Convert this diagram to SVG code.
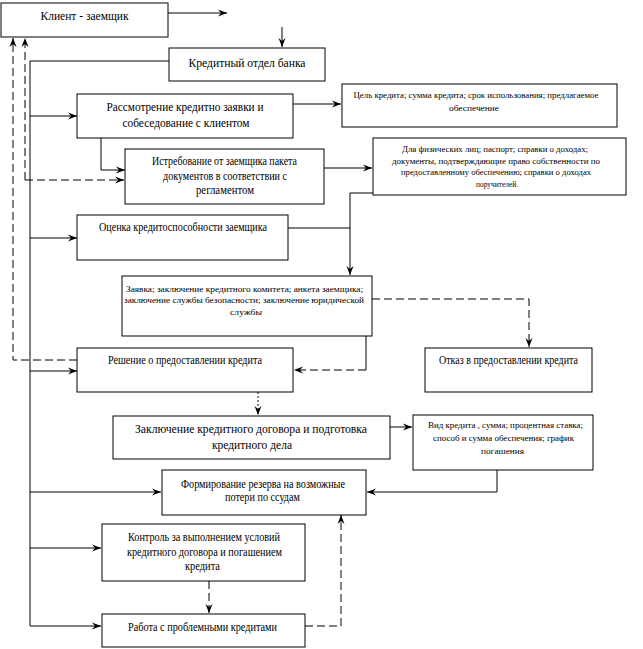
<svg xmlns="http://www.w3.org/2000/svg" width="643" height="649" viewBox="0 0 643 649">
<style>
.box{fill:#fff;stroke:#000;stroke-width:1}
.t{font-family:"Liberation Serif","DejaVu Serif","Times New Roman",serif;font-size:12px;fill:#000;text-anchor:middle}
.s{font-family:"Liberation Serif","DejaVu Serif","Times New Roman",serif;font-size:9px;fill:#000;text-anchor:middle}
.c{fill:none;stroke:#000;stroke-width:1}
.d{stroke-dasharray:8 4}
.o{stroke-dasharray:2 2}
</style>
<defs>
<marker id="ah" markerUnits="userSpaceOnUse" markerWidth="10" markerHeight="8" refX="9" refY="4" orient="auto">
<path d="M0,0.5 L9,4 L0,7.5 L3,4 Z" fill="#000"/>
</marker>
</defs>
<rect width="643" height="649" fill="#fff"/>
<g id="connectors">
<path class="c" d="M168,13 H227" marker-end="url(#ah)"/>
<path class="c" d="M282,27 V47" marker-end="url(#ah)"/>
<path class="c" d="M169,61 H30 V626"/>
<path class="c" d="M30,116 H77" marker-end="url(#ah)"/>
<path class="c" d="M293,104 H341" marker-end="url(#ah)"/>
<path class="c" d="M101,138 V170 H125" marker-end="url(#ah)"/>
<path class="c" d="M324,168 H372" marker-end="url(#ah)"/>
<path class="c" d="M373,193 H350 V275" marker-end="url(#ah)"/>
<path class="c" d="M288,228 H350"/>
<path class="c" d="M30,238 H77" marker-end="url(#ah)"/>
<path class="c" d="M30,371 H77" marker-end="url(#ah)"/>
<path class="c" d="M366,336 V370"/>
<path class="c d" d="M366,370 H294" marker-end="url(#ah)"/>
<path class="c o" d="M258,392 V415" marker-end="url(#ah)"/>
<path class="c" d="M390,427 H412" marker-end="url(#ah)"/>
<path class="c" d="M497,470 V492 H367" marker-end="url(#ah)"/>
<path class="c" d="M30,492 H161" marker-end="url(#ah)"/>
<path class="c" d="M30,548 H101" marker-end="url(#ah)"/>
<path class="c" d="M30,626 H101" marker-end="url(#ah)"/>
<path class="c d" d="M77,360 H13 V38" marker-end="url(#ah)"/>
<path class="c d" d="M25,180 V38" marker-end="url(#ah)"/>
<path class="c d" d="M25,180 H124" marker-end="url(#ah)"/>
<path class="c d" d="M372,299 H529 V347" marker-end="url(#ah)"/>
<path class="c d" d="M209,581 V613" marker-end="url(#ah)"/>
<path class="c d" d="M305,626 H341 V515" marker-end="url(#ah)"/>
</g>
<g id="client">
<rect class="box" x="1" y="3" width="167" height="34"/>
<text class="t" x="84.5" y="20" textLength="88" lengthAdjust="spacingAndGlyphs">Клиент - заемщик</text>
</g>
<g id="credit-dept">
<rect class="box" x="169" y="48" width="156" height="33"/>
<text class="t" x="247" y="67" textLength="117" lengthAdjust="spacingAndGlyphs">Кредитный отдел банка</text>
</g>
<g id="review">
<rect class="box" x="77" y="94" width="216" height="44"/>
<text class="t" x="185" y="111" textLength="157" lengthAdjust="spacingAndGlyphs">Рассмотрение кредитно заявки и</text>
<text class="t" x="186" y="127" textLength="127" lengthAdjust="spacingAndGlyphs">собеседование с клиентом</text>
</g>
<g id="goal">
<rect class="box" x="342" y="84" width="275" height="43"/>
<text class="s" x="476" y="98" textLength="245" lengthAdjust="spacingAndGlyphs">Цель кредита; сумма кредита; срок использования; предлагаемое</text>
<text class="s" x="474" y="111" textLength="50" lengthAdjust="spacingAndGlyphs">обеспечение</text>
</g>
<g id="request-docs">
<rect class="box" x="125" y="149" width="199" height="55"/>
<text class="t" x="224.5" y="165" textLength="145" lengthAdjust="spacingAndGlyphs">Истребование от заемщика пакета</text>
<text class="t" x="225" y="180" textLength="124" lengthAdjust="spacingAndGlyphs">документов в соответствии с</text>
<text class="t" x="225" y="194" textLength="58" lengthAdjust="spacingAndGlyphs">регламентом</text>
</g>
<g id="docs-list">
<rect class="box" x="373" y="138" width="253" height="57"/>
<text class="s" x="495" y="152" textLength="186" lengthAdjust="spacingAndGlyphs">Для физических лиц; паспорт; справки о доходах;</text>
<text class="s" x="496" y="163.5" textLength="208" lengthAdjust="spacingAndGlyphs">документы, подтверждающие право собственности по</text>
<text class="s" x="496" y="175" textLength="190" lengthAdjust="spacingAndGlyphs">предоставленному обеспечению; справки о доходах</text>
<text class="s" x="497" y="186.5" textLength="42" lengthAdjust="spacingAndGlyphs">поручителей.</text>
</g>
<g id="assessment">
<rect class="box" x="77" y="215" width="211" height="45"/>
<text class="t" x="183" y="231" textLength="168" lengthAdjust="spacingAndGlyphs">Оценка кредитоспособности заемщика</text>
</g>
<g id="application">
<rect class="box" x="122" y="276" width="250" height="60"/>
<text class="s" x="244.5" y="292" textLength="237" lengthAdjust="spacingAndGlyphs">Заявка; заключение кредитного комитета; анкета заемщика;</text>
<text class="s" x="244" y="303" textLength="240" lengthAdjust="spacingAndGlyphs">заключение службы безопасности; заключение юридической</text>
<text class="s" x="246" y="315" textLength="32" lengthAdjust="spacingAndGlyphs">службы</text>
</g>
<g id="decision">
<rect class="box" x="77" y="348" width="216" height="44"/>
<text class="t" x="185" y="364" textLength="154" lengthAdjust="spacingAndGlyphs">Решение о предоставлении кредита</text>
</g>
<g id="refusal">
<rect class="box" x="425" y="348" width="167" height="44"/>
<text class="t" x="508.5" y="364" textLength="139" lengthAdjust="spacingAndGlyphs">Отказ в предоставлении кредита</text>
</g>
<g id="contract">
<rect class="box" x="113" y="416" width="277" height="43"/>
<text class="t" x="251" y="433" textLength="232" lengthAdjust="spacingAndGlyphs">Заключение кредитного договора и подготовка</text>
<text class="t" x="252" y="449" textLength="80" lengthAdjust="spacingAndGlyphs">кредитного дела</text>
</g>
<g id="terms">
<rect class="box" x="413" y="415" width="180" height="55"/>
<text class="s" x="505.5" y="428" textLength="155" lengthAdjust="spacingAndGlyphs">Вид кредита , сумма; процентная ставка;</text>
<text class="s" x="503.5" y="441" textLength="141" lengthAdjust="spacingAndGlyphs">способ и сумма обеспечения; график</text>
<text class="s" x="502.5" y="454" textLength="43" lengthAdjust="spacingAndGlyphs">погашения</text>
</g>
<g id="reserve">
<rect class="box" x="162" y="470" width="204" height="45"/>
<text class="t" x="263" y="488" textLength="164" lengthAdjust="spacingAndGlyphs">Формирование резерва на возможные</text>
<text class="t" x="262.5" y="501" textLength="75" lengthAdjust="spacingAndGlyphs">потери по ссудам</text>
</g>
<g id="control">
<rect class="box" x="102" y="524" width="203" height="57"/>
<text class="t" x="204" y="541" textLength="152" lengthAdjust="spacingAndGlyphs">Контроль за выполнением условий</text>
<text class="t" x="204.5" y="556" textLength="155" lengthAdjust="spacingAndGlyphs">кредитного договора и погашением</text>
<text class="t" x="202.5" y="570" textLength="35" lengthAdjust="spacingAndGlyphs">кредита</text>
</g>
<g id="problem-loans">
<rect class="box" x="102" y="614" width="203" height="33"/>
<text class="t" x="202.5" y="631" textLength="149" lengthAdjust="spacingAndGlyphs">Работа с проблемными кредитами</text>
</g>
</svg>
